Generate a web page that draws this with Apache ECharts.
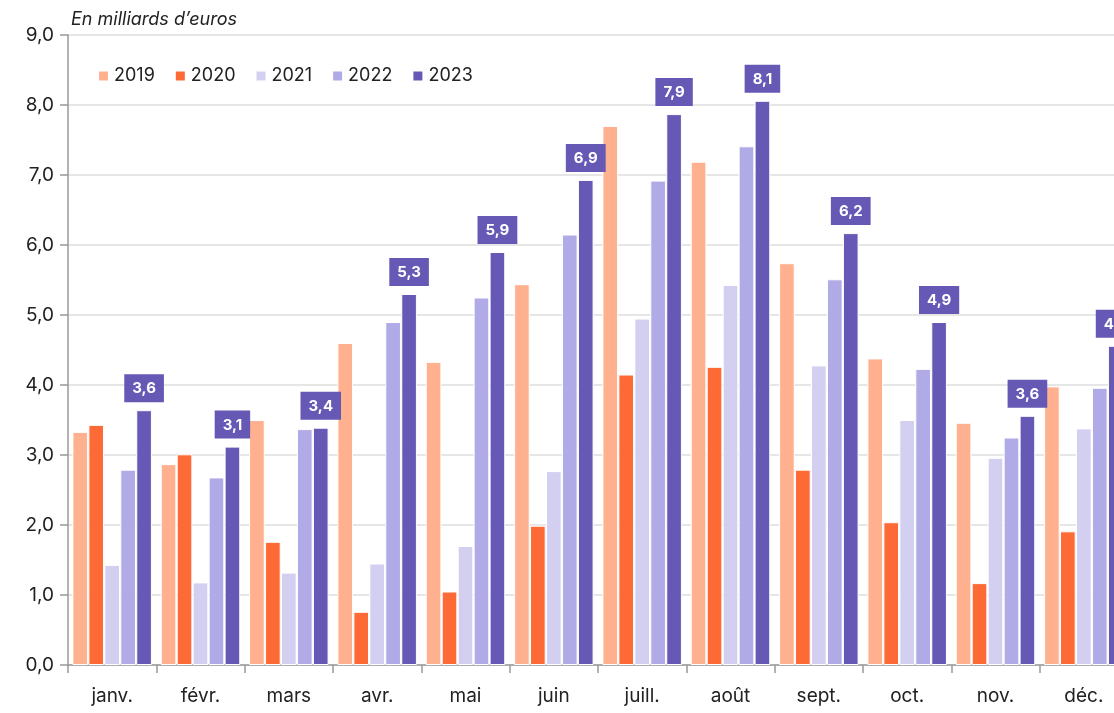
<!DOCTYPE html>
<html>
<head>
<meta charset="utf-8">
<script src="https://cdn.jsdelivr.net/npm/echarts@6/dist/echarts.min.js"></script>
<style>
  html, body { margin: 0; padding: 0; background: #fff; }
  #chart { width: 1114px; height: 713px; }
</style>
</head>
<body>
<div id="chart"></div>
<script>
const months = ["janv.", "févr.", "mars", "avr.", "mai", "juin", "juill.", "août", "sept.", "oct.", "nov.", "déc."];
const years = ["2019", "2020", "2021", "2022", "2023"];
const v2019 = [3.33, 2.87, 3.50, 4.60, 4.33, 5.44, 7.70, 7.19, 5.74, 4.38, 3.46, 3.98];
const v2020 = [3.43, 3.01, 1.76, 0.76, 1.05, 1.99, 4.15, 4.26, 2.79, 2.04, 1.17, 1.91];
const v2021 = [1.43, 1.18, 1.32, 1.45, 1.70, 2.77, 4.95, 5.43, 4.28, 3.50, 2.96, 3.38];
const v2022 = [2.79, 2.68, 3.37, 4.90, 5.25, 6.15, 6.92, 7.41, 5.51, 4.23, 3.25, 3.96];
const v2023 = [3.64, 3.12, 3.39, 5.30, 5.90, 6.93, 7.87, 8.06, 6.17, 4.90, 3.56, 4.56];
const yTicks = [0, 1, 2, 3, 4, 5, 6, 7, 8, 9];

const colors = ["#ffb18f", "#fd6a36", "#d3cff0", "#b0aae6", "#6659b6"];
const values = [v2019, v2020, v2021, v2022, v2023];
const font = "Inter, 'Noto Sans', sans-serif";
const comma = (v) => v.toFixed(1).replace(".", ",");

const series = years.map((y, i) => ({
  name: y,
  type: "bar",
  data: values[i],
  barGap: "2%",
  barCategoryGap: "10%",
  itemStyle: { color: colors[i], borderColor: "#fff", borderWidth: 1 },
  label: i === 4 ? {
    show: true,
    position: "top",
    distance: 8,
    formatter: (p) => comma(p.value),
    color: "#fff",
    fontWeight: "bold",
    fontSize: 15,
    fontFamily: font,
    backgroundColor: "#6659b6",
    padding: [7, 8, 6, 8]
  } : { show: false }
}));

const myChart = echarts.init(document.querySelector("#chart"));
myChart.setOption({
  animation: false,
  textStyle: { fontFamily: font },
  title: {
    text: "En milliards d’euros",
    left: 66,
    top: 6,
    textStyle: { fontSize: 18, fontStyle: "italic", fontWeight: "normal", color: "#222", fontFamily: font }
  },
  legend: {
    left: 92,
    top: 62,
    itemWidth: 11,
    itemHeight: 11,
    itemGap: 19,
    icon: "rect",
    textStyle: { fontSize: 18, color: "#222", fontFamily: font },
    data: years
  },
  grid: { left: 68, width: 1060, top: 35, bottom: 48, containLabel: false, outerBoundsMode: "none" },
  xAxis: {
    type: "category",
    data: months,
    axisLine: { lineStyle: { color: "#999", width: 1.5 } },
    axisTick: { show: true, length: 8, lineStyle: { color: "#999", width: 1.5 } },
    axisLabel: { fontSize: 19, color: "#222", margin: 22, fontFamily: font }
  },
  yAxis: {
    type: "value",
    min: yTicks[0],
    max: yTicks[yTicks.length - 1],
    interval: 1,
    axisLine: { show: true, lineStyle: { color: "#999", width: 1.5 } },
    axisTick: { show: true, length: 8, lineStyle: { color: "#999", width: 1.5 } },
    axisLabel: { fontSize: 19, color: "#222", margin: 14, formatter: (v) => comma(v), fontFamily: font },
    splitLine: { lineStyle: { color: "#dedede", width: 1.5 } }
  },
  series: series
});
</script>
</body>
</html>
